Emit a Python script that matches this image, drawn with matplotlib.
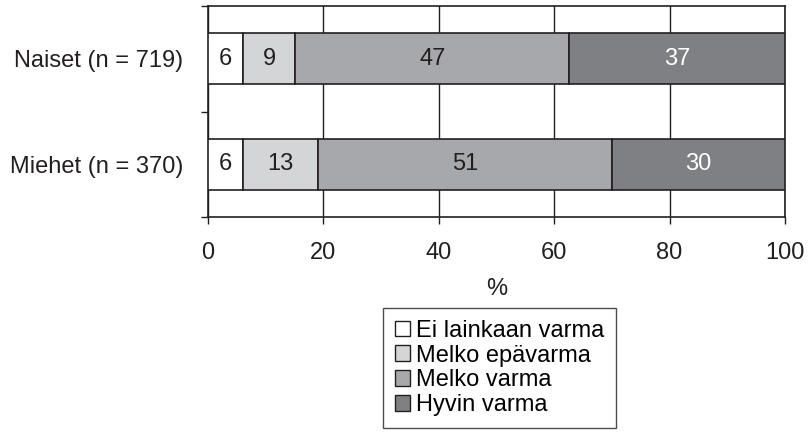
import matplotlib
matplotlib.use("Agg")
import matplotlib.pyplot as plt
import numpy as np

# data
groups = ["Naiset (n = 719)", "Miehet (n = 370)"]
categories = ["Ei lainkaan varma", "Melko epävarma", "Melko varma", "Hyvin varma"]
values = {
    "Ei lainkaan varma": [6, 6],
    "Melko epävarma": [9, 13],
    "Melko varma": [47, 51],
    "Hyvin varma": [37, 30],
}
colors = ["#ffffff", "#d4d5d7", "#a7a8ab", "#7f8083"]
text_colors = ["#231f20", "#231f20", "#231f20", "#ffffff"]

plt.rcParams["font.family"] = ["Liberation Sans", "DejaVu Sans"]
FS = 17

fig = plt.figure(figsize=(8.1, 4.32), dpi=100)
ax = fig.add_axes([208 / 810, 1 - 217 / 432, 577 / 810, 211 / 432])

# 100 % stacked: rows are scaled so that they fill the axis
totals = np.sum([values[c] for c in categories], axis=0).astype(float)

y = np.array([1, 0])  # Naiset on top
left = np.zeros(len(groups))
for cat, col, tcol in zip(categories, colors, text_colors):
    raw = np.array(values[cat], dtype=float)
    vals = raw / totals * 100
    ax.barh(y, vals, left=left, height=0.48, color=col, edgecolor="#231f20",
            linewidth=1.2, zorder=3)
    for yi, l, v, r in zip(y, left, vals, raw):
        ax.text(l + v / 2, yi, f"{r:.0f}", ha="center", va="center",
                fontsize=FS, color=tcol, zorder=4)
    left += vals

ax.set_xlim(0, 100)
ax.set_ylim(-0.5, 1.5)
ax.set_xticks(np.arange(0, 101, 20))
ax.tick_params(axis="x", labelsize=FS, length=5, width=1, direction="out",
               colors="#231f20", pad=13)
ax.xaxis.grid(True, color="#231f20", linewidth=1, zorder=0)

# category ticks between groups, labels at bar centres
ax.set_yticks([-0.5, 0.5, 1.5])
ax.set_yticklabels([])
ax.set_yticks(y, labels=groups, minor=True)
ax.tick_params(axis="y", which="major", length=5, width=1, colors="#231f20")
ax.tick_params(axis="y", which="minor", length=0, labelsize=FS, pad=18,
               labelcolor="#231f20")

for s in ax.spines.values():
    s.set_color("#231f20")
    s.set_linewidth(1.2)

ax.set_xlabel("%", fontsize=FS, color="#231f20", labelpad=10)

handles = [plt.Rectangle((0, 0), 1, 1, facecolor=c, edgecolor="#231f20", linewidth=1)
           for c in colors]
leg = fig.legend(handles, categories, loc="upper left",
                 bbox_to_anchor=(383 / 810, 1 - 308 / 432), fontsize=FS,
                 frameon=True, fancybox=False, handlelength=0.65, handleheight=0.65,
                 handletextpad=0.25, labelspacing=0.12, borderpad=0.5,
                 borderaxespad=0)
leg.get_frame().set_edgecolor("#231f20")
leg.get_frame().set_linewidth(1)

fig.savefig("out.png", dpi=100)
